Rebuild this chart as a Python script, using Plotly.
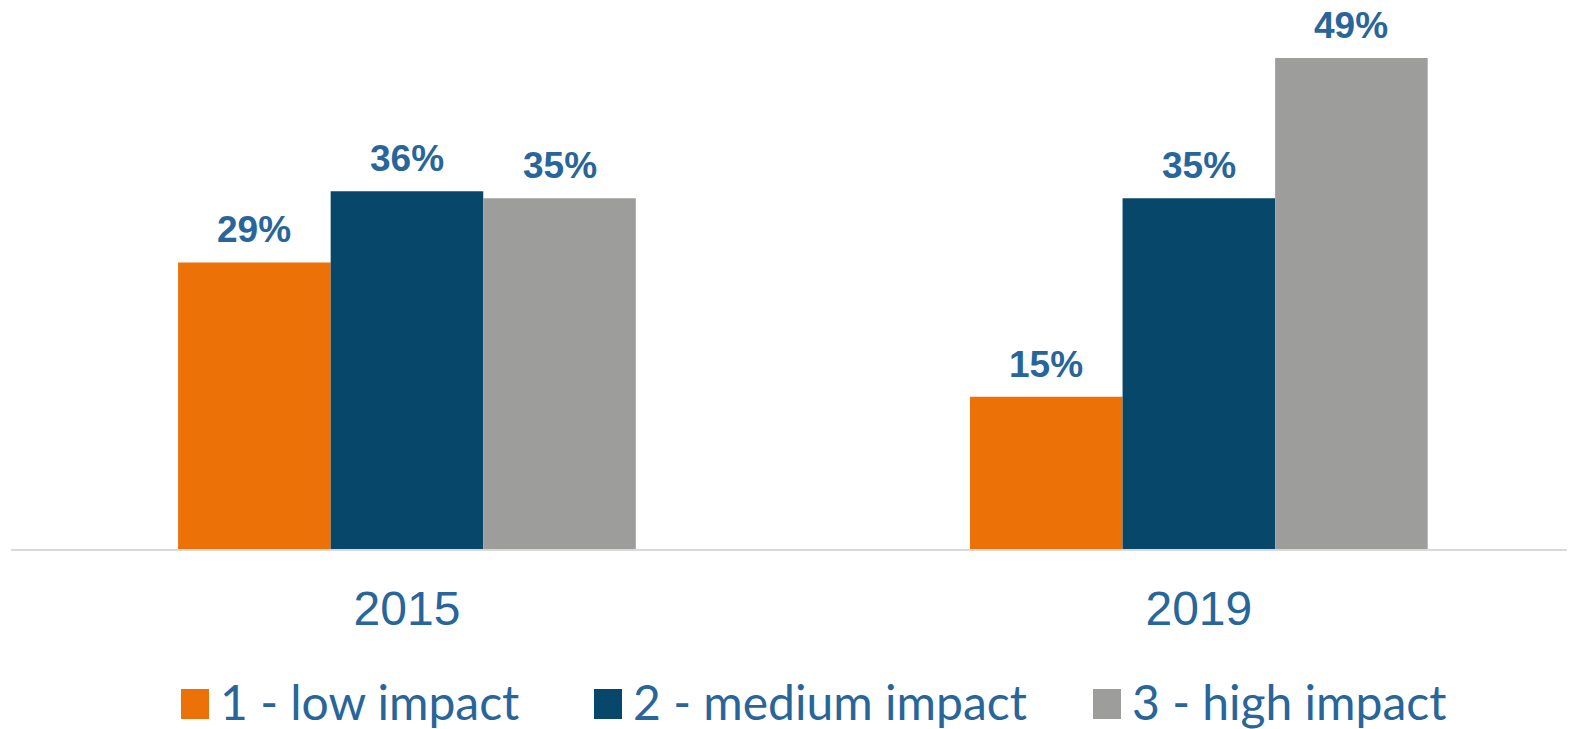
import plotly.graph_objects as go

years = ["2015", "2019"]
series_names = ["1 - low impact", "2 - medium impact", "3 - high impact"]
low_impact = [28.6, 15.2]
medium_impact = [35.7, 35.0]
high_impact = [35.0, 49.0]

colors = ["#EC7106", "#07476A", "#9D9D9C"]
label_color = "#28659A"

# the page body adds an 8px margin, so the figure is made 8px smaller
OFF = 8
W, H = 1575 - OFF, 729 - OFF
ML, MR, MT, MB = 3, 0, 12, 180
plot_w = W - ML - MR
plot_h = H - MT - MB

def px_x(p):
    # screen pixel -> paper x
    return (p - OFF - ML) / plot_w

def px_y(p):
    return (H - MB - (p - OFF)) / plot_h

bargap = 0.422
bw = (1 - bargap) / 3

fig = go.Figure()
annos = []
for i, (name, vals) in enumerate(zip(series_names, [low_impact, medium_impact, high_impact])):
    fig.add_trace(go.Bar(x=years, y=vals, name=name, marker_color=colors[i],
                         marker_line_width=0, showlegend=False))
    for j, v in enumerate(vals):
        annos.append(dict(x=j + (i - 1) * bw, y=v, xref="x", yref="y",
                          text="<b>%d%%</b>" % int(v + 0.5), showarrow=False,
                          yanchor="bottom", yshift=11, borderpad=0,
                          font=dict(family="Liberation Sans, Arial", size=37, color=label_color)))

# legend drawn by hand so the swatches can be as large as the original
sq_left = [181, 594, 1093]
for i, name in enumerate(series_names):
    fig.add_shape(type="rect", xref="paper", yref="paper",
                  x0=px_x(sq_left[i]), x1=px_x(sq_left[i] + 28),
                  y0=px_y(719), y1=px_y(689),
                  fillcolor=colors[i], line_width=0)
    annos.append(dict(x=px_x(sq_left[i] + 38), y=px_y(701), xref="paper", yref="paper",
                      text=name, showarrow=False, xanchor="left", yanchor="middle",
                      borderpad=0,
                      font=dict(family="Lato", size=48, color=label_color)))

fig.update_layout(
    width=W, height=H,
    margin=dict(l=ML, r=MR, t=MT, b=MB),
    plot_bgcolor="white", paper_bgcolor="white",
    barmode="group", bargap=bargap, bargroupgap=0,
    annotations=annos,
)
fig.update_xaxes(type="category", range=[-0.5, 1.475],
                 showline=True, linecolor="#D9D9D9", linewidth=2,
                 ticks="", ticklabelstandoff=16,
                 tickfont=dict(family="Liberation Sans, Arial", size=48, color=label_color))
fig.update_yaxes(range=[0, 52.8], showgrid=False, showticklabels=False, zeroline=False)

fig.write_html("out.html")
